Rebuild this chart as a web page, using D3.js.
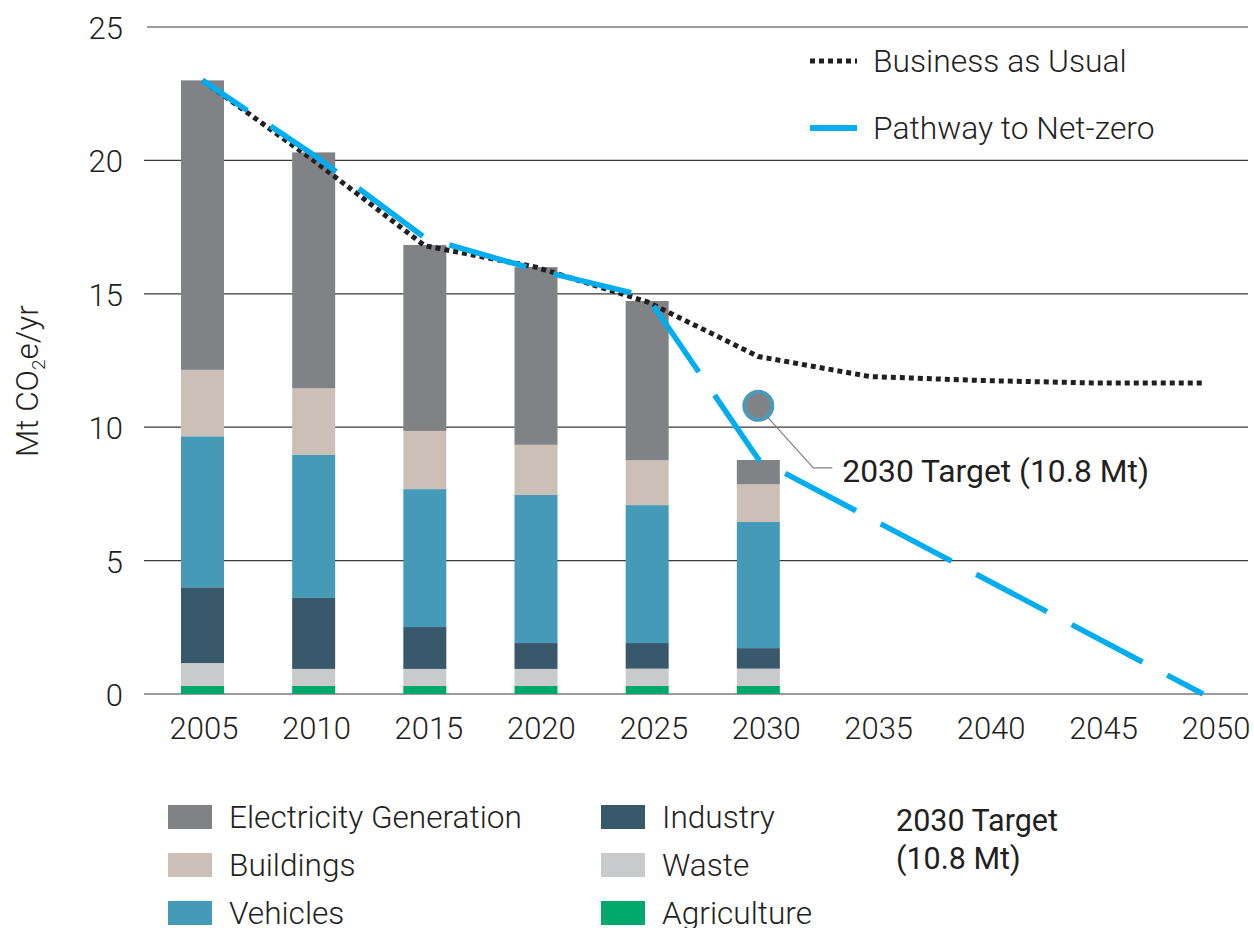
<!DOCTYPE html>
<html>
<head>
<meta charset="utf-8">
<script src="https://cdn.jsdelivr.net/npm/d3@7"></script>
<style>
  body { margin: 0; background: #fff; }
  text { font-family: Roboto, "Open Sans", sans-serif; fill: #231f20; }
</style>
</head>
<body>
<svg id="chart"></svg>
<script>
// data
const years = [2005, 2010, 2015, 2020, 2025, 2030];
const sectors = ['Electricity Generation', 'Buildings', 'Vehicles', 'Industry', 'Waste', 'Agriculture'];
const electricity = [10.85, 8.84, 6.97, 6.66, 5.97, 0.91];
const buildings   = [2.49, 2.50, 2.18, 1.88, 1.68, 1.41];
const vehicles    = [5.66, 5.36, 5.17, 5.55, 5.17, 4.73];
const industry    = [2.84, 2.66, 1.57, 0.97, 0.96, 0.77];
const waste       = [0.86, 0.64, 0.64, 0.64, 0.65, 0.65];
const agriculture = [0.30, 0.30, 0.30, 0.30, 0.30, 0.30];

const lineYears   = [2005, 2010, 2015, 2020, 2025, 2030, 2035, 2040, 2045, 2050];
const bau         = [23.0, 20.0, 16.8, 16.0, 14.7, 12.65, 11.9, 11.75, 11.66, 11.66];
const pathYears   = [2005, 2010, 2015, 2020, 2025, 2030, 2050];
const pathway     = [23.0, 20.2, 17.1, 15.9, 14.9, 8.8, 0];

const target = {year: 2030, value: 10.8, label: '2030 Target (10.8 Mt)'};
const yTicks = [0, 5, 10, 15, 20, 25];
const xTicks = [2005, 2010, 2015, 2020, 2025, 2030, 2035, 2040, 2045, 2050];

const colors = ['#818286', '#cbbfb7', '#459bb7', '#38596c', '#c9cacc', '#00a96b'];

const W = 1254, H = 928;
const svg = d3.select('#chart').attr('width', W).attr('height', H);

const y = d3.scaleLinear().domain([0, 25]).range([694, 27]);
const x = d3.scaleLinear().domain([2005, 2050]).range([202.5, 1203]);
const xLab = d3.scaleLinear().domain([2005, 2050]).range([204, 1216]);
const color = d3.scaleOrdinal().domain(sectors).range(colors);

// gridlines
svg.append('g').selectAll('line')
  .data(yTicks).enter().append('line')
  .attr('x1', d => d === 25 ? 147 : 144).attr('x2', 1248)
  .attr('y1', d => y(d)).attr('y2', d => y(d))
  .attr('stroke', '#3a3a3a').attr('stroke-width', 1.2);

// y labels
svg.append('g').selectAll('text')
  .data(yTicks).enter().append('text')
  .attr('x', 123).attr('y', d => y(d) + 12)
  .attr('text-anchor', 'end')
  .style('font-size', '31px').style('font-weight', 300)
  .text(d => d);

// x labels
svg.append('g').selectAll('text')
  .data(xTicks).enter().append('text')
  .attr('x', d => xLab(d)).attr('y', 739)
  .attr('text-anchor', 'middle')
  .style('font-size', '31px').style('font-weight', 300)
  .text(d => d);

// y title
svg.append('text')
  .attr('transform', 'translate(38,381) rotate(-90)')
  .attr('text-anchor', 'middle')
  .style('font-size', '31.5px').style('font-weight', 300)
  .call(t => {
    t.append('tspan').text('Mt CO');
    t.append('tspan').attr('dy', 7).style('font-size', '19px').text('2');
    t.append('tspan').attr('dy', -7).text('e/yr');
  });

// stacked bars
const table = years.map((yr, i) => ({
  year: yr,
  'Agriculture': agriculture[i],
  'Waste': waste[i],
  'Industry': industry[i],
  'Vehicles': vehicles[i],
  'Buildings': buildings[i],
  'Electricity Generation': electricity[i]
}));
const stackKeys = sectors.slice().reverse();
const series = d3.stack().keys(stackKeys)(table);
const barW = 43;

svg.append('g').selectAll('g')
  .data(series).enter().append('g')
  .attr('fill', d => color(d.key))
  .selectAll('rect')
  .data(d => d).enter().append('rect')
  .attr('x', d => x(d.data.year) - barW / 2)
  .attr('width', barW)
  .attr('y', d => y(d[1]))
  .attr('height', d => y(d[0]) - y(d[1]));

// lines
const bauLine = d3.line().x((d, i) => x(lineYears[i])).y(d => y(d));
svg.append('path')
  .attr('d', bauLine(bau))
  .attr('fill', 'none')
  .attr('stroke', '#231f20')
  .attr('stroke-width', 5)
  .attr('stroke-dasharray', '5,4');

const pathLine = d3.line().x((d, i) => x(pathYears[i])).y(d => y(d));
svg.append('path')
  .attr('d', pathLine(pathway))
  .attr('fill', 'none')
  .attr('stroke', '#00aeef')
  .attr('stroke-width', 5.5)
  .attr('stroke-dasharray', '80,28')
  .attr('stroke-dashoffset', 26);

// 2030 target marker
const tx = x(target.year), ty = y(target.value);
svg.append('polyline')
  .attr('points', `${tx + 9},${ty + 11} ${tx + 55},${ty + 62} ${tx + 74},${ty + 62}`)
  .attr('fill', 'none')
  .attr('stroke', '#808285')
  .attr('stroke-width', 1.2);
svg.append('circle')
  .attr('cx', tx).attr('cy', ty).attr('r', 14)
  .attr('fill', '#808285')
  .attr('stroke', '#4a9bb8')
  .attr('stroke-width', 4);
svg.append('text')
  .attr('x', tx + 84).attr('y', ty + 76)
  .style('font-size', '31.8px')
  .text(target.label);

// line legend
const lineLegend = [
  {label: 'Business as Usual', color: '#231f20', dash: '5,4', w: 5},
  {label: 'Pathway to Net-zero', color: '#00aeef', dash: null, w: 6}
];
const ll = svg.append('g').selectAll('g')
  .data(lineLegend).enter().append('g')
  .attr('transform', (d, i) => `translate(0, ${61 + i * 67})`);
ll.append('line')
  .attr('x1', 810).attr('x2', 857)
  .attr('stroke', d => d.color)
  .attr('stroke-width', d => d.w)
  .attr('stroke-dasharray', d => d.dash);
ll.append('text')
  .attr('x', 873).attr('y', 11)
  .style('font-size', '31.8px').style('font-weight', 300)
  .text(d => d.label);

// sector legend
const sl = svg.append('g').selectAll('g')
  .data(sectors).enter().append('g')
  .attr('transform', (d, i) => `translate(${i < 3 ? 168 : 601}, ${805 + (i % 3) * 48})`);
sl.append('rect')
  .attr('width', 44).attr('height', 24)
  .attr('fill', d => color(d));
sl.append('text')
  .attr('x', 61).attr('y', 23)
  .style('font-size', '31.6px').style('font-weight', 300)
  .text(d => d);

// target legend text
svg.append('text')
  .attr('x', 896).attr('y', 831)
  .style('font-size', '30.5px')
  .call(t => {
    t.append('tspan').attr('x', 896).text('2030 Target');
    t.append('tspan').attr('x', 896).attr('dy', 38).text('(10.8 Mt)');
  });
</script>
</body>
</html>
